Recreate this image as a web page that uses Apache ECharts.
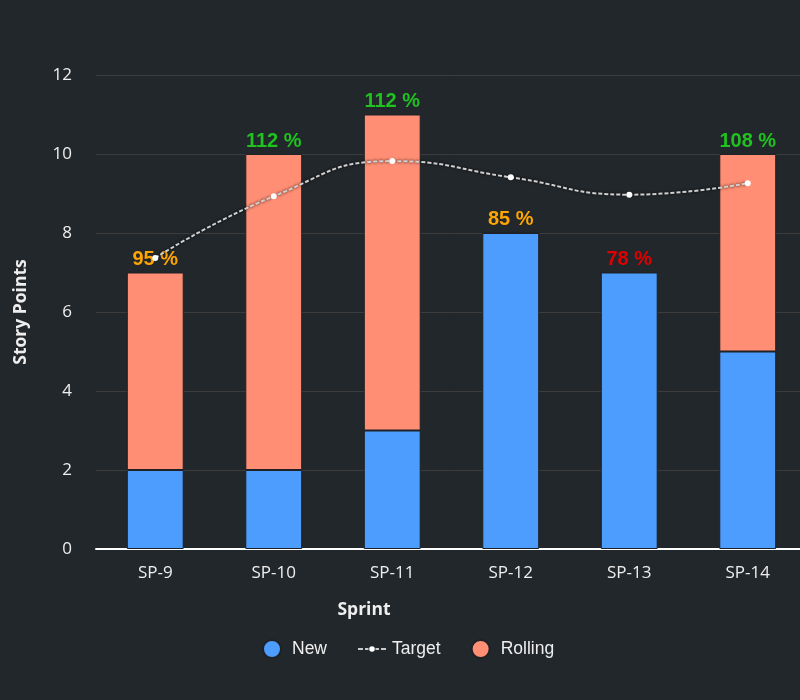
<!DOCTYPE html>
<html><head><meta charset="utf-8">
<script src="https://cdn.jsdelivr.net/npm/echarts@6/dist/echarts.min.js"></script>
<style>html,body{margin:0;padding:0;background:#22272b;overflow:hidden;}#c{width:807px;height:700px;}</style>
</head><body><div id="c"></div>
<script>
const categories = ['SP-9','SP-10','SP-11','SP-12','SP-13','SP-14'];
const newPoints = [2, 2, 3, 8, 7, 5];
const rollingPoints = [5, 8, 8, 0, 0, 5];
const targetPoints = [7.37, 8.93, 9.82, 9.41, 8.97, 9.26];
const percentLabels = [95, 112, 112, 85, 78, 108];

function pctColor(p){ return p >= 100 ? '#1fc21f' : (p >= 80 ? '#ffa500' : '#e00000'); }

const rollingData = rollingPoints.map((v,i)=>({
  value: v,
  label: { color: pctColor(percentLabels[i]) }
}));

const targetIcon = 'path://M0,0h0.01v0.01h-0.01z M29.99,17.99h0.01v0.01h-0.01z ' +
  'M1,8.3h5v1.4h-5z M8,8.3h3.5v1.4h-3.5z M18.5,8.3h3.5v1.4h-3.5z M24,8.3h5v1.4h-5z ' +
  'M12.2,9a2.8,2.8 0 1,0 5.6,0a2.8,2.8 0 1,0 -5.6,0z';

const chart = echarts.init(document.getElementById('c'));
chart.setOption({
  backgroundColor: '#22272b',
  animation: false,
  grid: { left: 96, right: 0, top: 75, bottom: 151 },
  legend: {
    bottom: 36, left: 257,
    itemGap: 30, itemWidth: 30, itemHeight: 18,
    textStyle: { color: '#eeeeee', fontSize: 17.5, fontFamily: 'Liberation Sans, Arial, sans-serif' },
    data: [
      { name: 'New', icon: 'circle' },
      { name: 'Target', icon: targetIcon },
      { name: 'Rolling', icon: 'circle' }
    ]
  },
  xAxis: {
    type: 'category', data: categories,
    name: 'Sprint', nameLocation: 'middle', nameGap: 52,
    nameTextStyle: { color: '#eeeeee', fontSize: 17.5, fontWeight: 'bold', fontFamily: 'Open Sans, sans-serif', padding: [0, 175, 0, 0] },
    axisLine: { lineStyle: { color: '#ffffff', width: 2 } },
    axisTick: { show: false },
    axisLabel: { color: '#eeeeee', fontSize: 17, margin: 16, fontFamily: 'Open Sans, sans-serif' }
  },
  yAxis: {
    type: 'value', min: 0, max: 12, interval: 2,
    name: 'Story Points', nameLocation: 'middle', nameGap: 66,
    nameTextStyle: { color: '#eeeeee', fontSize: 17.5, fontWeight: 'bold', fontFamily: 'Open Sans, sans-serif' },
    axisLine: { show: false }, axisTick: { show: false },
    axisLabel: { color: '#eeeeee', fontSize: 17, margin: 24, fontFamily: 'Open Sans, sans-serif' },
    splitLine: { lineStyle: { color: '#3c3c3c', width: 1 } }
  },
  series: [
    {
      name: 'New', type: 'bar', stack: 'sp', data: newPoints, barWidth: '48%',
      itemStyle: { color: '#4d9dff', borderColor: '#1e2226', borderWidth: 1 }
    },
    {
      name: 'Rolling', type: 'bar', stack: 'sp', data: rollingData, barWidth: '48%',
      itemStyle: { color: '#ff8e74', borderColor: '#1e2226', borderWidth: 1 },
      label: {
        show: true, position: 'top', distance: 3,
        fontSize: 20, fontWeight: 'bold', fontFamily: 'Liberation Sans, Arial, sans-serif',
        formatter: p => percentLabels[p.dataIndex] + ' %'
      }
    },
    {
      name: 'Target', type: 'line', data: targetPoints, smooth: true,
      symbol: 'circle', symbolSize: 6,
      itemStyle: { color: '#ffffff' },
      lineStyle: { color: '#d0d0d0', width: 2, type: [4, 2], shadowColor: 'rgba(0,0,0,0.9)', shadowBlur: 3 },
      z: 5
    }
  ]
});
</script></body></html>
